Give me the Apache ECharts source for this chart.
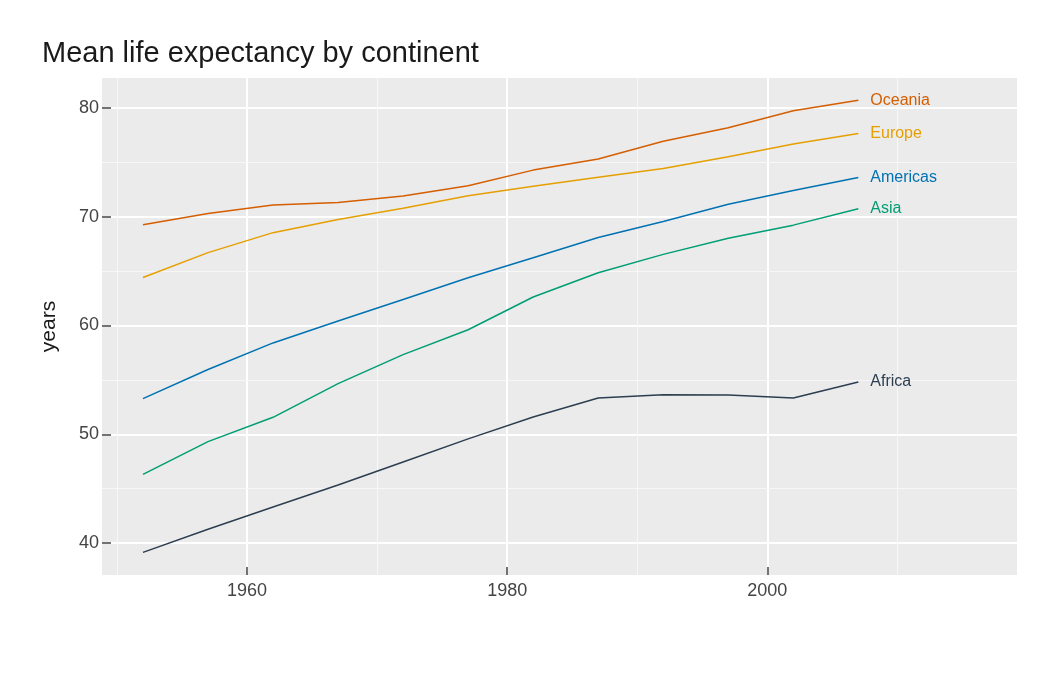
<!DOCTYPE html>
<html>
<head>
<meta charset="utf-8">
<script src="https://cdn.jsdelivr.net/npm/echarts@6/dist/echarts.min.js"></script>
<style>
  html, body { margin: 0; padding: 0; background: #fff; }
  #chart { width: 1050px; height: 675px; }
</style>
</head>
<body>
<div id="chart"></div>
<script>
// gapminder means, one value every 5 years
var years = [1952, 1957, 1962, 1967, 1972, 1977, 1982, 1987, 1992, 1997, 2002, 2007];
var africa = [39.14, 41.27, 43.32, 45.33, 47.45, 49.58, 51.59, 53.34, 53.63, 53.60, 53.33, 54.81];
var americas = [53.28, 55.96, 58.40, 60.41, 62.39, 64.39, 66.23, 68.09, 69.57, 71.15, 72.42, 73.61];
var asia = [46.31, 49.32, 51.56, 54.66, 57.32, 59.61, 62.62, 64.85, 66.54, 68.02, 69.23, 70.73];
var europe = [64.41, 66.70, 68.54, 69.74, 70.78, 71.94, 72.81, 73.64, 74.44, 75.51, 76.70, 77.65];
var oceania = [69.26, 70.30, 71.09, 71.31, 71.91, 72.86, 74.29, 75.32, 76.95, 78.19, 79.74, 80.72];

var xTicks = [1960, 1980, 2000];
var xMinor = [1950, 1970, 1990, 2010];
var yTicks = [40, 50, 60, 70, 80];
var yMinor = [45, 55, 65, 75];

var FONT = 'Liberation Sans, Arial, sans-serif';

function pairs(vals) {
    return years.map(function (y, i) { return [y, vals[i]]; });
}

function lineSeries(name, vals, color) {
    return {
        name: name,
        type: 'line',
        data: pairs(vals),
        z: 3,
        symbol: 'none',
        silent: true,
        lineStyle: { color: color, width: 1.5 },
        itemStyle: { color: color },
        endLabel: {
            show: true,
            formatter: '{a}',
            color: color,
            fontFamily: FONT,
            fontSize: 16,
            distance: 12
        }
    };
}

// thin minor grid lines, drawn under the data
var minorLines = xMinor.map(function (v) { return { xAxis: v }; })
    .concat(yMinor.map(function (v) { return { yAxis: v }; }));

var chart = echarts.init(document.getElementById('chart'));
chart.setOption({
    animation: false,
    backgroundColor: '#fff',
    title: {
        text: 'Mean life expectancy by continent',
        left: 42,
        top: 39,
        padding: 0,
        textStyle: { fontFamily: FONT, fontSize: 29, fontWeight: 'normal', color: '#1a1a1a' }
    },
    grid: {
        left: 102, top: 78, right: 33, bottom: 100,
        show: true, backgroundColor: '#ebebeb', borderWidth: 0
    },
    xAxis: {
        type: 'value',
        min: 1948.85,
        max: 2019.2,
        axisLine: { show: false },
        axisTick: {
            show: true, inside: true, length: 8,
            lineStyle: { color: '#444', width: 1.5 },
            customValues: xTicks
        },
        axisLabel: {
            customValues: xTicks,
            formatter: function (v) { return String(v); },
            margin: 7,
            color: '#444', fontFamily: FONT, fontSize: 18
        },
        splitLine: { show: true, lineStyle: { color: '#fff', width: 2 } }
    },
    yAxis: {
        type: 'value',
        name: 'years',
        nameLocation: 'middle',
        nameGap: 42,
        nameTextStyle: { fontFamily: FONT, fontSize: 21, color: '#1a1a1a' },
        min: 37.06,
        max: 82.76,
        axisLine: { show: false },
        axisTick: {
            show: true, inside: true, length: 9,
            lineStyle: { color: '#444', width: 1.5 },
            customValues: yTicks
        },
        axisLabel: {
            customValues: yTicks,
            margin: 3,
            color: '#444', fontFamily: FONT, fontSize: 18
        },
        splitLine: { show: true, lineStyle: { color: '#fff', width: 2 } }
    },
    series: [
        {
            name: 'grid',
            type: 'line',
            data: [],
            silent: true,
            markLine: {
                z: 1,
                silent: true,
                symbol: ['none', 'none'],
                label: { show: false },
                lineStyle: { color: '#f7f7f7', width: 1, type: 'solid' },
                emphasis: { disabled: true },
                data: minorLines
            }
        },
        lineSeries('Oceania', oceania, '#d55e00'),
        lineSeries('Europe', europe, '#e69f00'),
        lineSeries('Americas', americas, '#0072b2'),
        lineSeries('Asia', asia, '#009e73'),
        lineSeries('Africa', africa, '#2c3e50')
    ]
});
</script>
</body>
</html>
